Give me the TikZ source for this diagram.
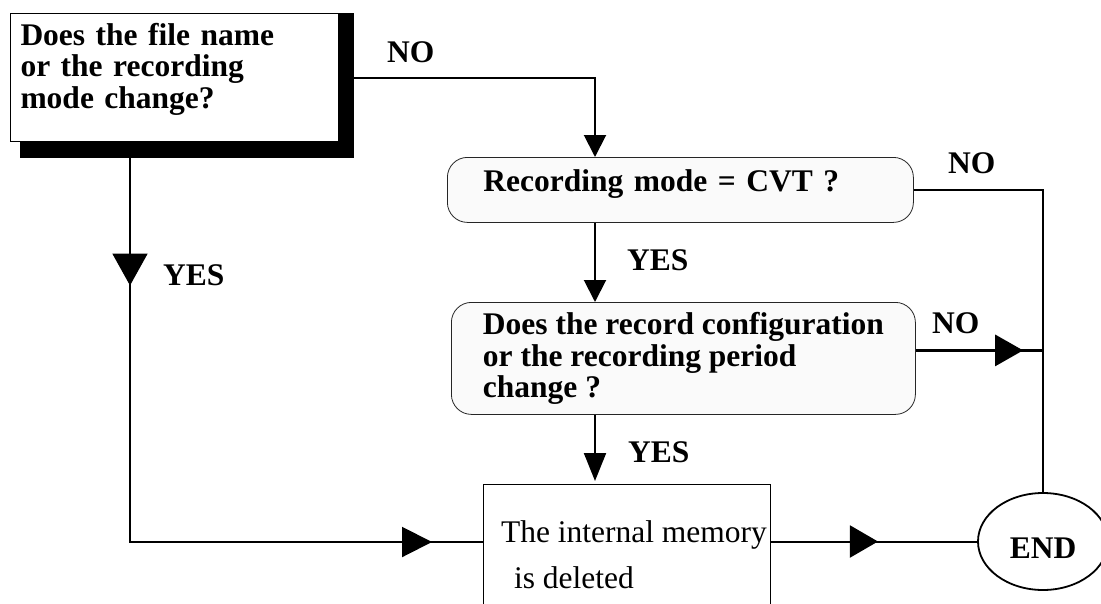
\documentclass[tikz,border=0pt]{standalone}
\usepackage{fontspec}
\setmainfont{Liberation Serif}
\usetikzlibrary{arrows.meta,shapes.geometric,decorations.markings}
\newcommand{\lowpad}[1]{\rule[-#1]{0pt}{#1}}
\begin{document}
\begin{tikzpicture}[x=1pt,y=-1pt,
    txt/.style={font=\fontsize{31.5}{31.5}\selectfont\bfseries},
    qbox/.style={txt,draw=black!85,fill=black!2,line width=0.8pt,rounded corners=20pt,anchor=north west,inner ysep=6pt,align=left},
    lbl/.style={txt,anchor=base west,inner sep=0pt},
    wire/.style={line width=2pt},
    midtip/.style n args={3}{postaction={decorate},decoration={markings,mark=at position #1 with {\arrow{Triangle[length=#2,width=#3]}}}}]
    \useasboundingbox (0,0) rectangle (1101,603);
    \clip (0,0) rectangle (1101,603);
    \node[txt,draw,fill=white,line width=1pt,anchor=north west,minimum width=328pt,minimum height=128pt,text width=308pt,inner xsep=10pt,inner ysep=6pt,align=left] (q1) at (10,13) {Does the file name\\or the recording\\mode change?\lowpad{24pt}};
    \fill ([xshift=10pt]q1.south west) rectangle ([shift={(15pt,-16pt)}]q1.south east);
    \fill (q1.north east) rectangle ([shift={(15pt,-16pt)}]q1.south east);
    \node[qbox,minimum width=466pt,minimum height=65pt,text width=394pt,inner xsep=36pt] (q2) at (447,157) {Recording mode = CVT ?\lowpad{19pt}};
    \node[qbox,minimum width=464pt,minimum height=112pt] (q3) at (451,302) {Does the record configuration\\or the recording period\\change ?};
    \node[font=\fontsize{31.5}{46}\selectfont,draw,line width=1pt,anchor=north west,minimum width=287pt,minimum height=140pt,inner xsep=0pt,align=left] (q4) at (483,484) {\hspace*{14pt}The internal memory\\\hspace*{27pt}is deleted};
    \node[txt,draw,ellipse,line width=1.8pt,minimum width=130pt,minimum height=97pt,inner sep=0pt,text height=33.7pt] (stop) at (1043,541.5) {END};
    \coordinate (mid) at (595,0);
    \coordinate (rail) at (1043,0);
    \coordinate (low) at (130,542);
    \draw[wire,-{Triangle[length=22pt,width=22pt]}] (q1.east) -- (q1.east -| mid) -- (mid |- q2.north);
    \draw[wire,-{Triangle[length=22pt,width=22pt]}] (mid |- q2.south) -- (mid |- q3.north);
    \draw[wire,-{Triangle[length=28pt,width=22pt]},shorten >=3pt] (mid |- q3.south) -- (mid |- q4.north);
    \draw[wire] (q2.east) -- (q2.east -| rail) -- (stop.north);
    \draw[wire,line width=3pt,midtip={0.844}{28pt}{31pt}] ([yshift=8pt]q3.east) -- ([yshift=8pt]q3.east -| rail);
    \draw[wire,postaction={decorate},decoration={markings,
        mark=at position 0.1906 with {\arrow{Triangle[length=32pt,width=35pt]}},
        mark=at position 0.9323 with {\arrow{Triangle[length=30pt,width=30pt]}}}]
        (q1.south -| low) -- (low) -- (low -| q4.west);
    \draw[wire,midtip={0.519}{28pt}{32pt}] (q4.east |- stop.west) -- (stop.west);
    \node[lbl] (no1) at (387,62) {NO};
    \node[lbl] (no2) at (948,173) {NO};
    \node[lbl] (yes1) at (163,285) {YES};
    \node[lbl] (yes2) at (627,270) {YES};
    \node[lbl] (no3) at (932,333) {NO};
    \node[lbl] (yes3) at (628,462) {YES};
\end{tikzpicture}
\end{document}
